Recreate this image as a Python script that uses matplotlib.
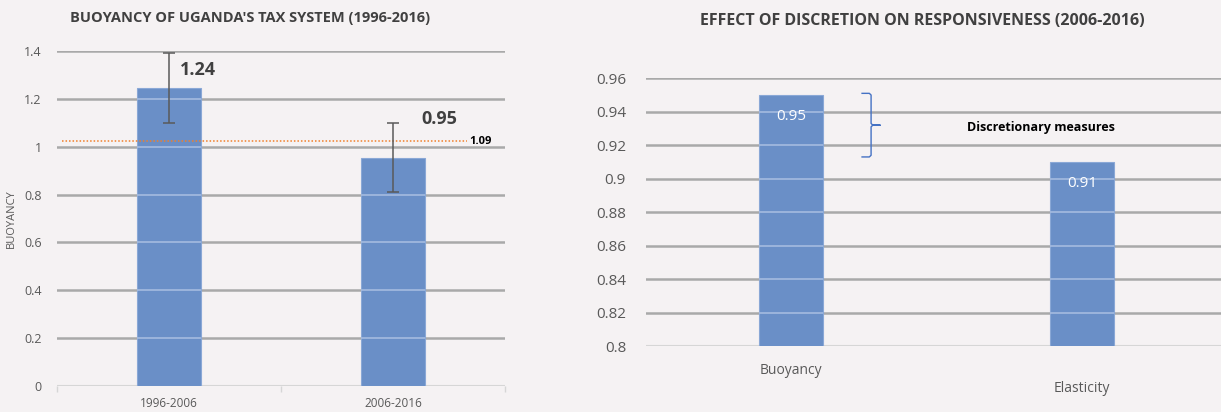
import numpy as np
import matplotlib.pyplot as plt
import matplotlib.transforms as mtransforms

plt.rcParams['font.family'] = ['Open Sans', 'DejaVu Sans']

# left chart data
periods = ['1996-2006', '2006-2016']
buoyancy = [1.245, 0.955]
err_low = [1.10, 0.81]
err_high = [1.39, 1.10]
bar_labels = ['1.24', '0.95']
ref_level = 1.024
ref_label = '1.09'

# right chart data
measures = ['Buoyancy', 'Elasticity']
resp = [0.95, 0.91]
resp_labels = ['0.95', '0.91']
brace_top, brace_bottom = 0.951, 0.913

bg = '#f5f2f3'
bar_c = '#6a8fc7'
grid_c = '#a9a9a9'
txt_c = '#595959'

fig = plt.figure(figsize=(12.21, 4.12), dpi=100, facecolor=bg)

# ---------- left
ax = fig.add_axes([0.0467, 0.063, 0.367, 0.813], facecolor=bg)
x = np.arange(len(periods))
w = 0.286
ax.bar(x, buoyancy, width=w, color=bar_c, edgecolor='#8aa8d6', linewidth=0.8, zorder=2)
yerr = [np.array(buoyancy) - np.array(err_low), np.array(err_high) - np.array(buoyancy)]
ax.errorbar(x, buoyancy, yerr=yerr, fmt='none', ecolor='#5a5a5a', elinewidth=1.1,
            capsize=4, capthick=1.1, zorder=4)
ax.set_xlim(-0.5, 1.5)
ax.set_ylim(0, 1.4)
yt = np.arange(0, 1.41, 0.2)
ax.set_yticks(yt)
ax.set_yticklabels(['0' if v == 0 else f'{v:.1f}'.rstrip('0').rstrip('.') for v in yt])
for v in yt[1:]:
    ax.axhline(v, color=grid_c, lw=1.8, zorder=1)
    for xi, h in zip(x, buoyancy):
        if v < h:
            ax.hlines(v, xi - w / 2, xi + w / 2, color='#a4bbe0', lw=1.2, zorder=3)
ax.axhline(0, color='#d6d6d6', lw=1.5, zorder=1)
ax.set_xticks(x)
ax.set_xticklabels(periods)
ax.set_xticks([-0.5, 0.5, 1.5], minor=True)
ax.tick_params(axis='x', which='major', length=0, pad=8, labelsize=8.5, colors=txt_c)
ax.tick_params(axis='x', which='minor', length=4, color='#d6d6d6', width=1)
ax.tick_params(axis='y', length=0, pad=11, labelsize=9, colors=txt_c)
for s in ax.spines.values():
    s.set_visible(False)
ax.set_ylabel('BUOYANCY', fontsize=8, color=txt_c, labelpad=5)
label_pos = [(0.05, 1.32), (0.125, 1.116)]
for xi, (dx, ly), lab in zip(x, label_pos, bar_labels):
    ax.text(xi + dx, ly, lab, fontsize=13, fontweight='bold', color='#404040',
            va='center', ha='left', zorder=5)
ax.plot([-0.48, 1.33], [ref_level, ref_level], color='#f07f2a', lw=1.1, ls=(0, (1, 1.3)), zorder=3)
ax.text(1.34, ref_level, ref_label, fontsize=8, fontweight='bold', color='black', va='center', ha='left')
fig.text(250 / 1221, 1 - 18 / 412, "BUOYANCY OF UGANDA'S TAX SYSTEM (1996-2016)", fontsize=10.5,
         fontweight='bold', color='#404040', ha='center', va='center')

# ---------- right
ax2 = fig.add_axes([0.5287, 0.160, 0.4767, 0.650], facecolor=bg)
x2 = np.arange(len(measures))
w2 = 0.22
ax2.bar(x2, resp, width=w2, color=bar_c, edgecolor='#8aa8d6', linewidth=0.8, zorder=2)
ax2.set_xlim(-0.5, 1.5)
ax2.set_ylim(0.8, 0.96)
yt2 = np.round(np.arange(0.8, 0.961, 0.02), 2)
ax2.set_yticks(yt2)
ax2.set_yticklabels([f'{v:.2f}'.rstrip('0').rstrip('.') for v in yt2])
for v in yt2[1:]:
    ax2.axhline(v, color=grid_c, lw=1.8, zorder=1)
    for xi, h in zip(x2, resp):
        if v < h:
            ax2.hlines(v, xi - w2 / 2, xi + w2 / 2, color='#a4bbe0', lw=1.2, zorder=3)
ax2.axhline(0.8, color='#d6d6d6', lw=1.5, zorder=1)
ax2.set_xticks([])
for s in ax2.spines.values():
    s.set_visible(False)
ax2.tick_params(axis='y', length=0, pad=14, labelsize=11, colors=txt_c)
for xi, v, lab in zip(x2, resp, resp_labels):
    ax2.text(xi, v - 0.013, lab, fontsize=11, color='white', ha='center', va='center', zorder=5)
# staggered category labels
trans = mtransforms.blended_transform_factory(ax2.transData, ax2.transAxes)
ax2.text(x2[0], -0.065, measures[0], transform=trans, fontsize=10, color=txt_c, ha='center', va='top')
ax2.text(x2[1], -0.13, measures[1], transform=trans, fontsize=10, color=txt_c, ha='center', va='top')
# brace
bx = 0.275
bmid = (brace_top + brace_bottom) / 2
ax2.plot([bx - 0.031, bx - 0.006, bx, bx, bx + 0.006, bx + 0.031, bx + 0.006, bx, bx, bx - 0.006, bx - 0.031],
         [brace_top, brace_top, brace_top - 0.001, bmid + 0.001, bmid, bmid, bmid, bmid - 0.001,
          brace_bottom + 0.001, brace_bottom, brace_bottom],
         color='#4472c4', lw=1.0, zorder=4)
ax2.text(0.86, bmid - 0.0015, 'Discretionary measures', fontsize=9, fontweight='bold', color='black',
         ha='center', va='center')
fig.text(922 / 1221, 1 - 21 / 412, 'EFFECT OF DISCRETION ON RESPONSIVENESS (2006-2016)', fontsize=11.5,
         fontweight='bold', color='#404040', ha='center', va='center')

fig.savefig('out.png', dpi=100, facecolor=bg)
